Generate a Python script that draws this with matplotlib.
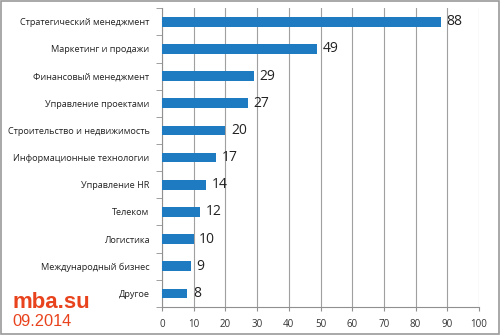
import matplotlib.pyplot as plt
import numpy as np
from matplotlib.patches import Rectangle

categories = [
    "Стратегический менеджмент",
    "Маркетинг и продажи",
    "Финансовый менеджмент",
    "Управление проектами",
    "Строительство и недвижимость",
    "Информационные технологии",
    "Управление HR",
    "Телеком",
    "Логистика",
    "Международный бизнес",
    "Другое",
]
values = [88, 49, 29, 27, 20, 17, 14, 12, 10, 9, 8]
x_ticks = list(range(0, 101, 10))

plt.rcParams["font.family"] = ["Open Sans", "DejaVu Sans"]

fig = plt.figure(figsize=(5, 3.35), dpi=100)
ax = fig.add_axes([0.324, 0.0836, 0.634, 0.892])

y = np.arange(len(categories))
ax.barh(y, values, height=0.36, color="#1f7bc1", zorder=3)
for yi, v in zip(y, values):
    ax.annotate(str(v), (v, yi), xytext=(4, 0), textcoords="offset points",
                va="center", ha="left", fontsize=10, color="#222222")

ax.set_xlim(0, 100)
ax.set_ylim(len(categories) - 0.5, -0.5)
ax.set_xticks(x_ticks)
ax.tick_params(axis="x", labelsize=7, colors="#333333", length=3, color="#909090", pad=6)
ax.set_yticks(y)
ax.set_yticklabels(categories)
ax.tick_params(axis="y", which="major", length=0, labelsize=6.6, labelcolor="#222222", pad=9)
ax.set_yticks(np.arange(-0.5, len(categories), 1), minor=True)
ax.tick_params(axis="y", which="minor", length=4, color="#909090")
ax.grid(axis="x", color="#a0a0a0", linewidth=0.8, zorder=0)
for s in ["top", "right"]:
    ax.spines[s].set_visible(False)
for s in ["left", "bottom"]:
    ax.spines[s].set_color("#909090")
    ax.spines[s].set_linewidth(0.8)

fig.text(0.024, 0.082, "mba.su", fontsize=16, fontweight="bold", color="#e8431d",
         family=["Liberation Sans", "DejaVu Sans"])
fig.text(0.024, 0.027, "09.2014", fontsize=11.8, color="#e8431d",
         family=["Liberation Sans", "DejaVu Sans"])

fig.patches.append(Rectangle((0.002, 0.003), 0.995, 0.993, transform=fig.transFigure,
                             fill=False, edgecolor="#9a9a9a", linewidth=1.2))

fig.savefig("out.png", dpi=100)
